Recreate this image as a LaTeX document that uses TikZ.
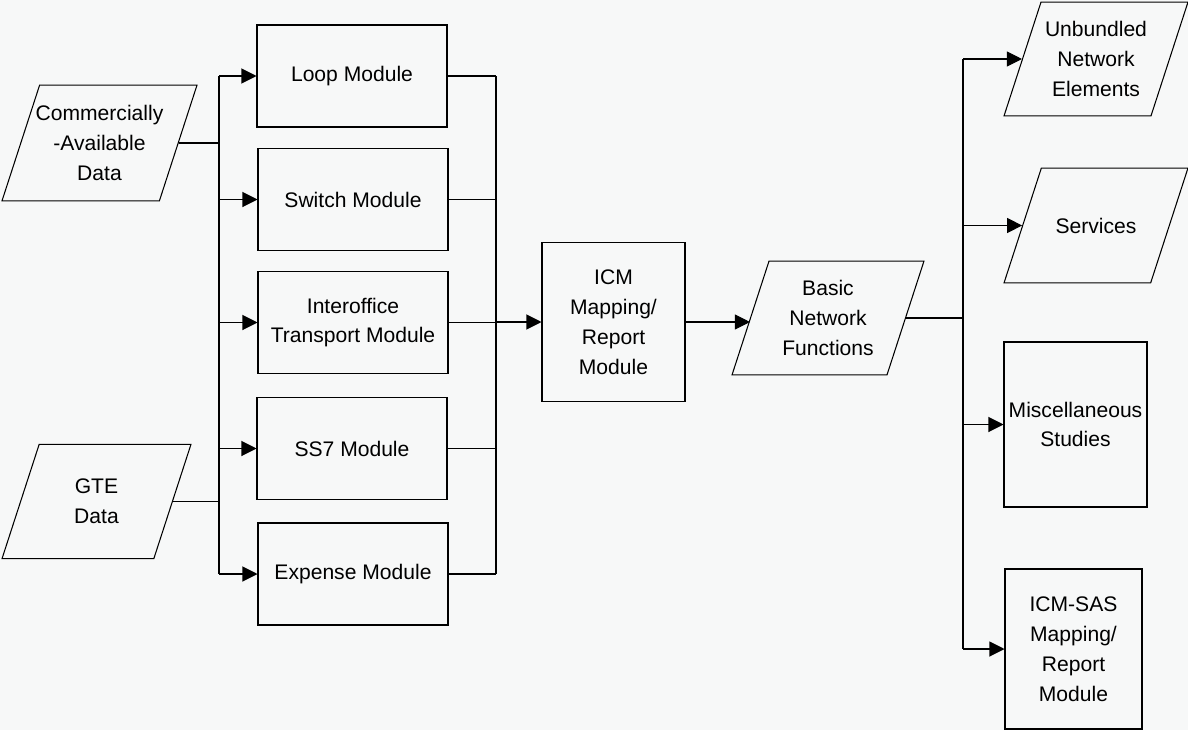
\documentclass[tikz,border=0pt]{standalone}
\usepackage{fontspec}
\setmainfont{Liberation Sans}
\usetikzlibrary{shapes.geometric, arrows.meta}
\definecolor{paper}{RGB}{247, 248, 248}
\definecolor{ink}{RGB}{0, 0, 0}
\tikzset{
    module/.style={rectangle, draw=ink, line width=0.6pt, align=center, font=\fontsize{12}{17}\selectfont, inner sep=1pt, minimum width=3.8cm, minimum height=2.04cm},
    dataio/.style={trapezium, trapezium left angle=72, trapezium right angle=108, trapezium stretches body=true, draw=ink, line width=0.6pt, align=center, font=\fontsize{12}{17}\selectfont, inner xsep=1pt},
    link/.style={line width=0.6pt, ink},
    arr/.style={-{Triangle[length=0.3cm, width=0.3cm]}, line width=0.6pt, ink}
}

\begin{document}
\begin{tikzpicture}[x=0.02cm, y=-0.02cm]
    \fill[paper] (0,0) rectangle (1188,730);
    \useasboundingbox (0,0) rectangle (1188,730);
    % data sources
    \node[dataio, minimum width=3.9cm, inner xsep=-3pt, inner ysep=11.5pt] (comm) at (99.5,143) {Commercially\\-Available\\Data};
    \node[dataio, minimum width=3.78cm, inner ysep=19.8pt] (gte) at (96.5,501.5) {GTE\\Data};
    % modules
    \node[module] (loop) at (352,76) {Loop Module};
    \node[module] (switch) at (353,199.5) {Switch Module};
    \node[module] (inter) at (353,322.5) {Interoffice\\Transport Module};
    \node[module] (ss7) at (352,448.5) {SS7 Module};
    \node[module] (expense) at (353,574) {Expense Module};
    \node[module, minimum width=2.86cm, minimum height=3.18cm] (icm) at (613.5,322) {ICM\\Mapping/\\Report\\Module};
    \node[dataio, minimum width=3.84cm, inner ysep=11pt] (bnf) at (828,318) {Basic\\Network\\Functions};
    % outputs
    \node[dataio, minimum width=3.68cm, inner ysep=11pt] (une) at (1096,59) {Unbundled\\Network\\Elements};
    \node[dataio, minimum width=3.68cm, inner ysep=28.3pt] (serv) at (1096,225.5) {Services};
    \node[module, minimum width=2.86cm, minimum height=3.3cm] (misc) at (1075.5,424.5) {Miscellaneous\\Studies};
    \node[module, minimum width=2.74cm, minimum height=3.2cm] (icmsas) at (1073.5,649) {ICM-SAS\\Mapping/\\Report\\Module};
    % buses
    \coordinate (lbus) at (219,0);
    \coordinate (rbus) at (496,0);
    \coordinate (obus) at (963,0);
    \draw[link] (comm.east) -- (comm.east -| lbus); \draw[link] (gte.east) -- (gte.east -| lbus);
    \draw[link] (loop.west -| lbus) -- (expense.west -| lbus);
    \foreach \m in {loop, switch, inter, ss7, expense} {
        \draw[arr] (\m.west -| lbus) -- (\m.west);
        \draw[link] (\m.east) -- (\m.east -| rbus);
    }
    \draw[link] (loop.east -| rbus) -- (expense.east -| rbus);
    \draw[arr] (icm.west -| rbus) -- (icm.west);
    \draw[arr] (icm.east) -- (icm.east -| bnf.west);
    \draw[link] (bnf.east) -- (bnf.east -| obus);
    \draw[link] (une.west -| obus) -- (icmsas.west -| obus);
    \foreach \m in {une, serv, misc, icmsas} \draw[arr] (\m.west -| obus) -- (\m.west);
\end{tikzpicture}
\end{document}
